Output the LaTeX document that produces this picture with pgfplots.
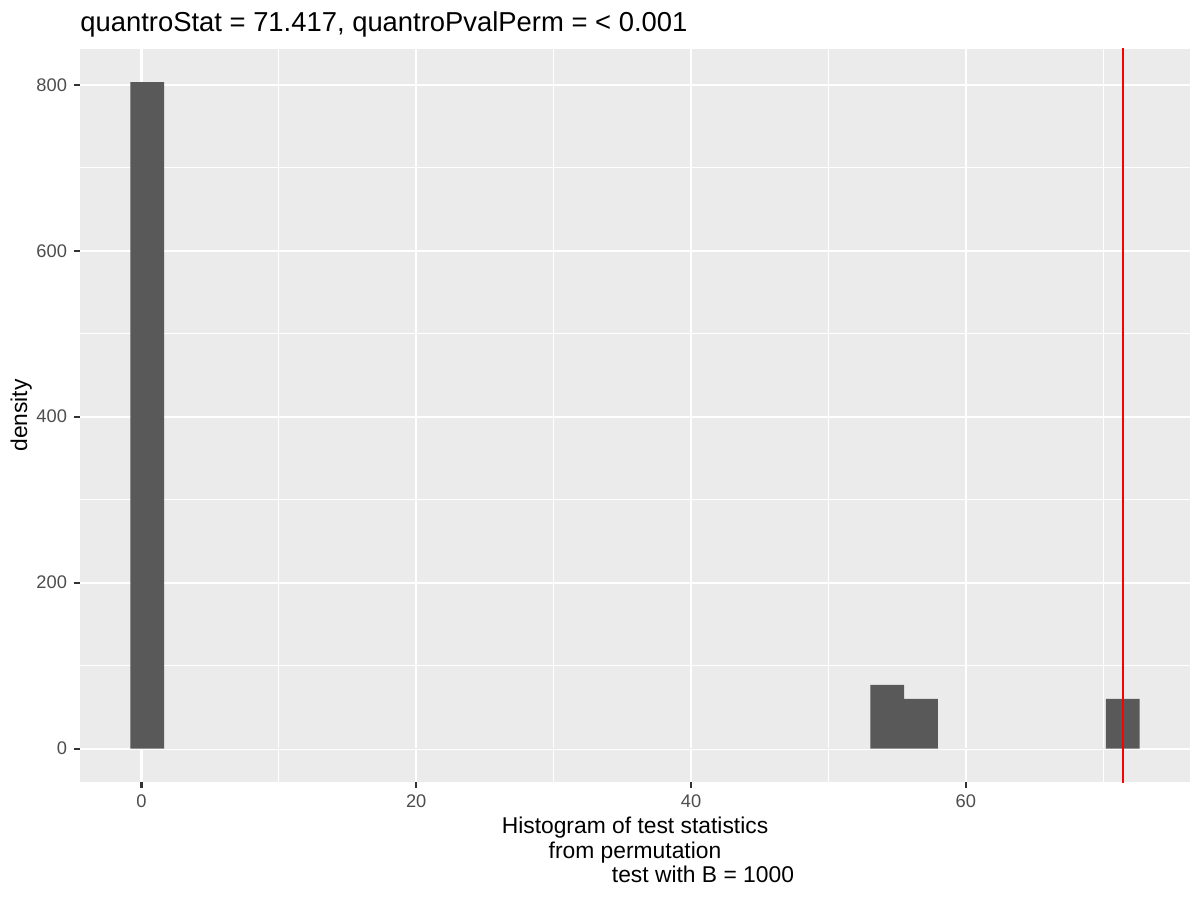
\documentclass[border=0pt]{standalone}
\usepackage{fontspec}
\setmainfont{Liberation Sans}
\usepackage{pgfplots}
\pgfplotsset{compat=1.18}
\definecolor{panelbg}{HTML}{EBEBEB}
\definecolor{bargray}{HTML}{595959}
\definecolor{gray30}{HTML}{4D4D4D}
\definecolor{gray20}{HTML}{333333}
\begin{document}
\begin{tikzpicture}[x=0.4818pt,y=0.4818pt]
\path[use as bounding box] (0,0) rectangle (1200,900);
\node[anchor=base west, inner sep=0, font=\fontsize{13.2}{15}\selectfont] at (80,868.5) {quantroStat = 71.417, quantroPvalPerm = < 0.001};
\begin{axis}[
  at={(38.54pt,56.85pt)}, anchor=south west,
  scale only axis, width=534.8pt, height=353.2pt,
  xmin=-4.47, xmax=76.31, ymin=-40.15, ymax=843.15,
  axis background/.style={fill=panelbg},
  axis line style={draw=none},
  xtick={0,20,40,60}, minor xtick={10,30,50,70},
  ytick={0,200,400,600,800}, minor ytick={100,300,500,700},
  grid=both,
  major grid style={white, line width=1.07pt},
  minor grid style={white, line width=0.53pt},
  tick pos=left, tick align=outside,
  major tick length=2.75pt, minor tick length=0pt,
  tick style={draw=gray20, line width=1.07pt},
  minor tick style={draw=none},
  ticklabel style={font=\fontsize{8.8}{10}\selectfont, text=gray30},
  /pgf/number format/assume math mode=true,
  scaled ticks=false,
  xlabel={Histogram of test statistics\\from permutation\\\hspace*{65.5pt}test with B = 1000},
  xlabel style={at={(axis description cs:0.5,0)}, anchor=north, inner sep=0, yshift=-16.6pt, align=center, font=\fontsize{11}{11.9}\selectfont},
  ylabel={density},
  ylabel style={at={(axis description cs:0,0.5)}, anchor=north, inner sep=0, yshift=33.7pt, yshift=0pt, font=\fontsize{11}{13}\selectfont},
]
\addplot[ybar interval, fill=bargray, draw=none] coordinates {
  (-0.799,803) (1.649,0) (53.057,77) (55.505,60) (57.953,0) (70.193,60) (72.641,0)
};
\addplot[red, line width=1.07pt] coordinates {(71.417,-100) (71.417,900)};
\end{axis}
\end{tikzpicture}
\end{document}
